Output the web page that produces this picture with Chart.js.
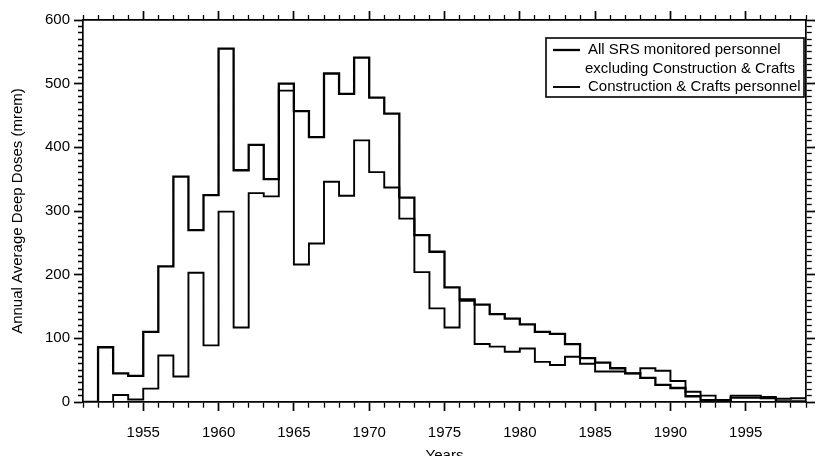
<!DOCTYPE html>
<html>
<head>
<meta charset="utf-8">
<script src="https://cdn.jsdelivr.net/npm/chart.js@4.4.1/dist/chart.umd.min.js"></script>
<style>
  html, body { margin: 0; padding: 0; background: #fff; overflow: hidden; }
  #wrap { position: relative; width: 819px; height: 466px; }
</style>
</head>
<body>
<div id="wrap"><canvas id="chart" width="819" height="466"></canvas></div>
<script>
// ---- data ----
const years = [1951, 1952, 1953, 1954, 1955, 1956, 1957, 1958, 1959, 1960,
               1961, 1962, 1963, 1964, 1965, 1966, 1967, 1968, 1969, 1970,
               1971, 1972, 1973, 1974, 1975, 1976, 1977, 1978, 1979, 1980,
               1981, 1982, 1983, 1984, 1985, 1986, 1987, 1988, 1989, 1990,
               1991, 1992, 1993, 1994, 1995, 1996, 1997, 1998];
const endYear = 1999;

// All SRS monitored personnel excluding Construction & Crafts
const allSrs = [0, 86, 45, 41, 110, 213, 354, 270, 325, 555,
                364, 404, 350, 500, 457, 416, 516, 484, 541, 478,
                453, 321, 262, 236, 180, 161, 153, 138, 131, 122,
                110, 107, 91, 69, 62, 53, 45, 38, 27, 22,
                9, 3, 3, 7, 7, 6, 1, 1];

// Construction & Crafts personnel
const construction = [0, 0, 11, 4, 21, 73, 40, 203, 89, 299,
                      117, 328, 323, 489, 216, 249, 346, 324, 411, 361,
                      337, 288, 204, 147, 117, 159, 91, 87, 79, 84,
                      63, 58, 71, 60, 48, 48, 45, 53, 49, 33,
                      16, 10, 3, 10, 10, 8, 5, 6];

const seriesLabels = ['All SRS monitored personnel\nexcluding Construction & Crafts',
                      'Construction & Crafts personnel'];
const xLabelYears = [1955, 1960, 1965, 1970, 1975, 1980, 1985, 1990, 1995];
const yLabelValues = [0, 100, 200, 300, 400, 500, 600];

// ---- helpers ----
const FONT = '"Liberation Sans", Arial, Helvetica, sans-serif';
const TICK = 9, MINOR = 5;

function toSteps(vals) {
    const pts = years.map((yr, i) => ({ x: yr, y: vals[i] }));
    pts.push({ x: endYear, y: vals[vals.length - 1] });  // close last step at the frame
    return pts;
}

const isMajorX = c => c.tick && c.tick.value % 5 === 0;
const isMajorY = c => c.tick && c.tick.value % 100 === 0;

// ticks drawn from axis outward (bottom/right) vs outer end inward (top/left)
const dashOut = major => c => major(c) ? [] : [MINOR, 100];
const dashIn = major => c => major(c) ? [] : [0, TICK - MINOR, MINOR, 100];

function gridFor(major, dash) {
    return {
        display: true,
        drawOnChartArea: false,
        drawTicks: true,
        tickLength: TICK,
        tickColor: '#000',
        tickWidth: c => major(c) ? 1.7 : 1.3,
        tickBorderDash: dash(major)
    };
}

const border = { display: true, color: '#000', width: 1.7 };

// boxed legend with multi-line labels, top right inside the plot
const boxLegend = {
    id: 'boxLegend',
    afterDraw(chart) {
        const { ctx, chartArea } = chart;
        const right = chartArea.right - 2, top = chartArea.top + 18;
        const left = right - 258, bottom = top + 59;
        ctx.save();
        ctx.fillStyle = '#fff';
        ctx.fillRect(left, top, right - left, bottom - top);
        ctx.strokeStyle = '#000';
        ctx.lineWidth = 1.6;
        ctx.strokeRect(left, top, right - left, bottom - top);
        ctx.font = '15px ' + FONT;
        ctx.fillStyle = '#000';
        ctx.textBaseline = 'middle';
        let y = top + 12;
        chart.data.datasets.forEach(ds => {
            ctx.beginPath();
            ctx.lineWidth = ds.borderWidth;
            ctx.moveTo(left + 7, y);
            ctx.lineTo(left + 34, y);
            ctx.stroke();
            ds.label.split('\n').forEach((line, i) => {
                ctx.fillText(line, left + (i ? 39 : 42), y);
                y += 18.5;
            });
        });
        ctx.restore();
    }
};

new Chart(document.getElementById('chart'), {
    type: 'line',
    data: {
        datasets: [
            { label: seriesLabels[0], data: toSteps(allSrs), borderColor: '#000', borderWidth: 2.3,
              stepped: true, pointRadius: 0, fill: false },
            { label: seriesLabels[1], data: toSteps(construction), borderColor: '#000', borderWidth: 1.9,
              stepped: true, pointRadius: 0, fill: false }
        ]
    },
    options: {
        responsive: false,
        animation: false,
        layout: { padding: { top: 12, left: 0, right: 0, bottom: 0 } },
        plugins: { legend: { display: false }, tooltip: { enabled: false } },
        scales: {
            x: {
                type: 'linear', position: 'bottom', min: 1951, max: endYear,
                afterFit: s => { s.height = 64; },
                border, grid: gridFor(isMajorX, dashOut),
                ticks: {
                    stepSize: 1, autoSkip: false, maxRotation: 0, padding: 13,
                    color: '#000', font: { family: FONT, size: 15 },
                    callback: v => xLabelYears.includes(v) ? String(v) : ''
                },
                title: { display: true, text: 'Years', color: '#000',
                         font: { family: FONT, size: 15 }, padding: { top: 0, bottom: 1 } }
            },
            xTop: {
                type: 'linear', position: 'top', min: 1951, max: endYear,
                afterFit: s => { s.height = 8; },
                border, grid: gridFor(isMajorX, dashIn),
                ticks: { stepSize: 1, autoSkip: false, display: false }
            },
            y: {
                type: 'linear', position: 'left', min: 0, max: 600,
                afterFit: s => { s.width = 83; },
                border, grid: gridFor(isMajorY, dashIn),
                ticks: {
                    stepSize: 10, autoSkip: false, padding: 4,
                    color: '#000', font: { family: FONT, size: 15 },
                    callback: v => yLabelValues.includes(v) ? String(v) : ''
                },
                title: { display: true, text: 'Annual Average Deep Doses (mrem)', color: '#000',
                         font: { family: FONT, size: 15 }, padding: { top: 9, bottom: 0 } }
            },
            yRight: {
                type: 'linear', position: 'right', min: 0, max: 600,
                afterFit: s => { s.width = 10; },
                border, grid: gridFor(isMajorY, dashOut),
                ticks: { stepSize: 10, autoSkip: false, display: false }
            }
        }
    },
    plugins: [boxLegend]
});
</script>
</body>
</html>
